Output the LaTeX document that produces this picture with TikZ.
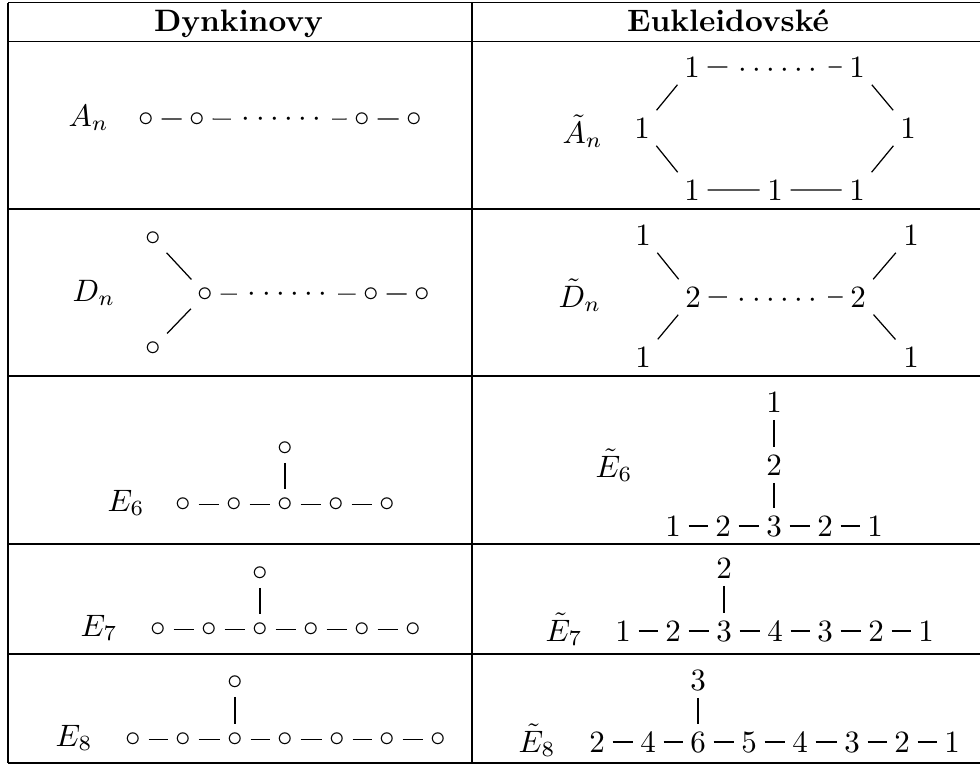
\documentclass[tikz,border=0pt]{standalone}
\newcommand{\dotbox}{\makebox[4.55pt][c]{$\cdot$}}
\newcommand{\sixdots}{\dotbox\dotbox\dotbox\dotbox\dotbox\dotbox}
\begin{document}
\begin{tikzpicture}[x=0.3226pt,y=-0.3226pt,
  vb/.style={inner sep=2.3pt, anchor=base},
  cdd/.style={inner xsep=2.5pt, inner ysep=2.3pt, anchor=base, text height=4.44pt, text depth=0pt},
  ndd/.style={inner xsep=2.5pt, inner ysep=2.3pt, anchor=base, text height=6.44pt, text depth=0pt},
  lab/.style={inner sep=0pt, anchor=base west},
  hd/.style={inner sep=0pt, anchor=base, font=\bfseries},
  rule/.style={line width=0.4pt},
  every path/.style={line width=0.4pt}]
\useasboundingbox (0,0) rectangle (980,765);
% table rules
\draw[rule] (8,2.7) -- (980,2.7);
\draw[rule] (8,41.7) -- (980,41.7);
\draw[rule] (8,209) -- (980,209);
\draw[rule] (8,376) -- (980,376);
\draw[rule] (8,544) -- (980,544);
\draw[rule] (8,654) -- (980,654);
\draw[rule] (8,763) -- (980,763);
\draw[rule] (8,2.7) -- (8,763);
\draw[rule] (472,2.7) -- (472,763);
% header
\node[hd] (h1) at (238.5,31.5) {Dynkinovy};
\node[hd] (h2) at (728,31.5) {Eukleidovské};
% ---------- left column ----------
\node[lab] (la) at (68,126) {$A_n$};
\node[vb] (a1) at (146,126) {$\circ$};
\node[vb] (a2) at (197,126) {$\circ$};
\node[cdd] (ad) at (281.5,126) {\sixdots};
\node[vb] (a3) at (362,126) {$\circ$};
\node[vb] (a4) at (414,126) {$\circ$};
\draw (a1) -- (a2) (a2) -- (ad) (ad) -- (a3) (a3) -- (a4);

\node[lab] (ld) at (72,301) {$D_n$};
\node[vb] (d1) at (153,245) {$\circ$};
\node[vb] (d2) at (153,355) {$\circ$};
\node[vb] (d3) at (205,301) {$\circ$};
\node[cdd] (dd) at (287.5,301) {\sixdots};
\node[vb] (d4) at (371,301) {$\circ$};
\node[vb] (d5) at (422,301) {$\circ$};
\draw (d1) -- (d3) (d2) -- (d3) (d3) -- (dd) (dd) -- (d4) (d4) -- (d5);

\node[lab] (le6) at (107,511) {$E_6$};
\node[vb] (e60) at (285,455) {$\circ$};
\node[vb] (e61) at (183,511) {$\circ$};
\node[vb] (e62) at (234,511) {$\circ$};
\node[vb] (e63) at (285,511) {$\circ$};
\node[vb] (e64) at (336,511) {$\circ$};
\node[vb] (e65) at (387,511) {$\circ$};
\draw (e60) -- (e63) (e61) -- (e62) -- (e63) -- (e64) -- (e65);

\node[lab] (le7) at (80,636) {$E_7$};
\node[vb] (e70) at (260,580) {$\circ$};
\node[vb] (e71) at (158,636) {$\circ$};
\node[vb] (e72) at (209,636) {$\circ$};
\node[vb] (e73) at (260,636) {$\circ$};
\node[vb] (e74) at (311,636) {$\circ$};
\node[vb] (e75) at (362,636) {$\circ$};
\node[vb] (e76) at (413,636) {$\circ$};
\draw (e70) -- (e73) (e71) -- (e72) -- (e73) -- (e74) -- (e75) -- (e76);

\node[lab] (le8) at (55,746) {$E_8$};
\node[vb] (e80) at (235,689) {$\circ$};
\node[vb] (e81) at (133,746) {$\circ$};
\node[vb] (e82) at (183,746) {$\circ$};
\node[vb] (e83) at (235,746) {$\circ$};
\node[vb] (e84) at (285,746) {$\circ$};
\node[vb] (e85) at (337,746) {$\circ$};
\node[vb] (e86) at (387,746) {$\circ$};
\node[vb] (e87) at (438,746) {$\circ$};
\draw (e80) -- (e83) (e81) -- (e82) -- (e83) -- (e84) -- (e85) -- (e86) -- (e87);

% ---------- right column ----------
\node[lab] (ra) at (562,143) {$\tilde{A}_n$};
\node[vb] (p1) at (692,77) {$1$};
\node[ndd] (pd) at (778,77) {\sixdots};
\node[vb] (p3) at (857,77) {$1$};
\node[vb] (p4) at (642,138) {$1$};
\node[vb] (p5) at (908,138) {$1$};
\node[vb] (p6) at (692,200) {$1$};
\node[vb] (p7) at (775,200) {$1$};
\node[vb] (p8) at (857,200) {$1$};
\draw (p1) -- (pd) (pd) -- (p3) (p4) -- (p1) (p4) -- (p6) (p3) -- (p5) (p5) -- (p8) (p6) -- (p7) (p7) -- (p8);

\node[lab] (rd) at (558,307) {$\tilde{D}_n$};
\node[vb] (q1) at (643,245) {$1$};
\node[vb] (q2) at (643,367) {$1$};
\node[vb] (q3) at (693,307) {$2$};
\node[ndd] (qd) at (777.5,307) {\sixdots};
\node[vb] (q4) at (858,307) {$2$};
\node[vb] (q5) at (911,245) {$1$};
\node[vb] (q6) at (911,367) {$1$};
\draw (q1) -- (q3) (q2) -- (q3) (q3) -- (qd) (qd) -- (q4) (q4) -- (q5) (q4) -- (q6);

\node[lab] (re6) at (595,477) {$\tilde{E}_6$};
\node[vb] (r1) at (774,412) {$1$};
\node[vb] (r2) at (774,475) {$2$};
\node[vb] (r3) at (673,536) {$1$};
\node[vb] (r4) at (723,536) {$2$};
\node[vb] (r5) at (774,536) {$3$};
\node[vb] (r6) at (825,536) {$2$};
\node[vb] (r7) at (875,536) {$1$};
\draw (r1) -- (r2) (r2) -- (r5) (r3) -- (r4) -- (r5) -- (r6) -- (r7);

\node[lab] (re7) at (545,641) {$\tilde{E}_7$};
\node[vb] (s0) at (724,578) {$2$};
\node[vb] (s1) at (623,641) {$1$};
\node[vb] (s2) at (673,641) {$2$};
\node[vb] (s3) at (724,641) {$3$};
\node[vb] (s4) at (775,641) {$4$};
\node[vb] (s5) at (825,641) {$3$};
\node[vb] (s6) at (876,641) {$2$};
\node[vb] (s7) at (926,641) {$1$};
\draw (s0) -- (s3) (s1) -- (s2) -- (s3) -- (s4) -- (s5) -- (s6) -- (s7);

\node[lab] (re8) at (518,752) {$\tilde{E}_8$};
\node[vb] (t0) at (698,690) {$3$};
\node[vb] (t1) at (597,752) {$2$};
\node[vb] (t2) at (648,752) {$4$};
\node[vb] (t3) at (698,752) {$6$};
\node[vb] (t4) at (749,752) {$5$};
\node[vb] (t5) at (800,752) {$4$};
\node[vb] (t6) at (852,752) {$3$};
\node[vb] (t7) at (902,752) {$2$};
\node[vb] (t8) at (952,752) {$1$};
\draw (t0) -- (t3) (t1) -- (t2) -- (t3) -- (t4) -- (t5) -- (t6) -- (t7) -- (t8);
\end{tikzpicture}
\end{document}
